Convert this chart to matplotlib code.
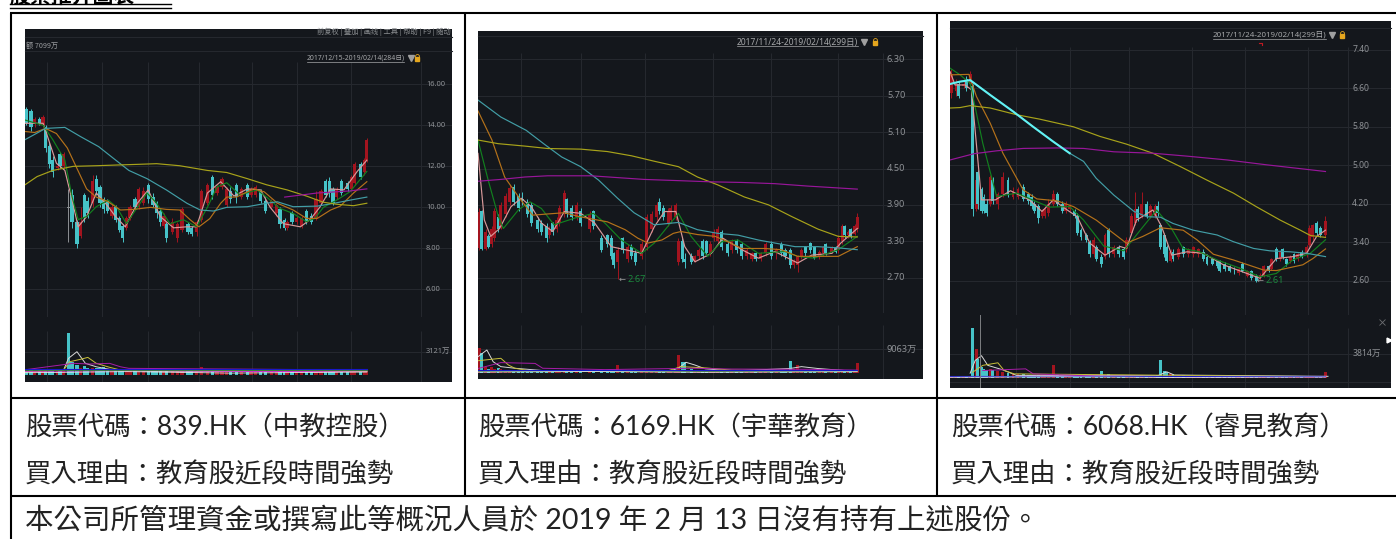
import matplotlib
matplotlib.use("Agg")
import matplotlib.pyplot as plt
import numpy as np

# ---- stock 1, 839.HK : candles are (open, close, low, high)
days1 = [1,5,8,12,15,17,20,23,27,29,32,36,39,43,46,49,52,56,59,62,
         65,68,72,75,78,81,84,87,91,94,98,102,106,109,112,115,117,122,126,130,
         135,138,142,146,151,155,159,163,167,170,175,179,184,187,191,195,199,204,208,211,
         215,217,221,225,229,233,237,241,245,249,252,255,258,262,267,270,273,278,281,283]
candles1 = [(14.8,14.1,14.0,14.9),(14.7,13.9,13.7,14.8),(14.1,14.3,13.9,14.4),(14.3,14.1,14.0,14.4),
    (14.0,14.4,13.9,14.5),(13.9,12.9,12.7,14.0),(13.0,12.1,11.9,13.2),(12.3,11.7,11.5,12.5),
    (11.9,12.0,11.8,12.3),(12.6,12.0,11.9,12.7),(12.0,12.6,11.9,12.7),(10.0,9.95,8.3,10.9),
    (10.6,9.3,9.0,10.9),(9.3,8.2,8.0,9.4),(8.6,9.3,8.5,10.0),(10.6,9.5,9.3,10.7),
    (10.3,9.7,9.5,10.5),(10.2,11.3,10.0,11.6),(11.4,10.8,10.6,11.6),(11.0,10.2,10.0,11.1),
    (10.4,9.9,9.7,10.5),(10.3,9.8,9.7,10.4),(9.6,10.0,9.5,10.2),(10.0,9.4,9.3,10.1),
    (9.5,8.9,8.8,9.6),(9.1,8.5,8.3,9.2),(9.0,9.5,8.9,9.6),(9.5,10.0,9.4,10.1),
    (10.4,10.0,9.9,10.5),(10.0,10.9,9.9,11.0),(10.2,10.8,10.1,11.0),(11.1,10.4,10.2,11.2),
    (10.5,10.1,10.0,10.7),(10.2,9.7,9.5,10.3),(9.8,9.3,9.1,9.9),(9.1,9.6,9.0,9.7),
    (9.2,8.5,8.3,9.3),(8.8,9.3,8.7,9.5),(8.5,9.2,8.3,9.3),(8.9,9.9,8.8,10.0),
    (9.2,8.8,8.7,9.3),(9.0,8.7,8.6,9.1),(8.8,9.3,8.6,9.4),(9.4,10.8,9.3,10.9),
    (10.2,11.1,10.1,11.2),(11.5,10.6,10.4,11.6),(10.7,11.0,10.6,11.1),(11.0,11.4,10.9,11.5),
    (10.1,10.9,10.0,11.0),(10.8,10.4,10.2,11.0),(11.1,10.5,10.2,11.2),(10.5,10.9,10.4,11.0),
    (11.1,10.5,10.4,11.2),(10.6,10.9,10.5,11.0),(10.6,11.0,10.5,11.1),(10.8,10.3,10.2,10.9),
    (10.3,9.8,9.7,10.5),(10.0,10.3,9.9,10.4),(9.7,10.1,9.6,10.2),(9.9,9.2,9.0,10.0),
    (9.4,9.0,8.9,9.5),(9.0,9.3,8.9,9.4),(9.7,9.3,9.2,9.8),(9.3,9.5,9.2,9.6),
    (9.1,9.5,9.0,9.6),(9.8,9.3,9.2,9.9),(9.6,9.3,9.2,9.7),(9.5,10.4,9.4,10.8),
    (10.2,10.8,10.1,10.9),(11.3,10.6,10.5,11.4),(11.3,10.7,10.5,11.5),(10.9,10.2,10.1,11.0),
    (10.5,10.9,10.4,11.0),(11.3,10.7,10.6,11.4),(11.2,10.9,10.8,11.3),(10.9,11.5,10.8,11.6),
    (11.2,12.1,11.1,12.2),(12.1,11.5,11.4,12.2),(11.7,12.3,11.6,12.4),(12.3,13.3,12.2,13.4)]
volume1 = [600,700,500,650,550,700,800,600,650,600,650,5560,1800,1300,1000,1200,1000,900,1000,950,
    1100,800,850,700,750,800,700,650,650,600,650,600,650,600,650,600,800,600,650,600,
    600,650,600,1100,700,650,600,650,800,600,550,550,600,500,550,550,600,500,550,500,
    550,500,550,600,500,550,500,600,550,600,600,550,600,500,500,550,700,600,700,600]

ma5_x1 = [0,15,26,33,39,44,51,59,68,75,83,93,102,112,123,134,142,151,162,173,184,195,203,214,228,236,244,253,264,275,283]
ma5_y1 = [14.1,14.1,12.15,11.8,10.35,9.05,9.55,10.7,10.1,9.55,9.05,10.2,10.85,9.55,9.0,9.05,9.05,10.7,11.25,10.55,10.9,10.85,10.0,9.2,9.05,9.4,10.0,10.9,10.85,11.75,12.3]
ma10_x1 = [0,15,23,33,39,44,51,59,69,76,84,93,101,109,120,131,142,151,159,167,178,192,200,211,222,233,240,247,258,269,283]
ma10_y1 = [14.26,14.0,13.3,12.3,10.5,9.4,9.55,10.03,10.35,10.0,9.2,10.0,10.7,10.2,9.2,9.4,9.05,10.0,11.0,11.2,10.6,10.85,10.5,9.95,9.7,9.3,9.46,10.0,10.35,10.76,11.75]
ma30_x1 = [0,8,17,26,35,43,51,59,68,79,90,104,117,128,137,144,153,162,167,175,189,198,209,222,233,242,253,261,272,283]
ma30_y1 = [13.7,13.65,13.85,13.6,12.9,11.9,10.9,10.5,10.3,9.87,9.9,10.0,9.9,9.87,9.38,9.05,9.45,10.2,10.5,10.5,10.9,10.76,10.2,9.87,9.46,9.46,9.87,10.06,10.7,11.25]
ma60_x1 = [0,17,33,46,61,73,86,101,117,134,145,156,167,184,200,209,222,242,256,269,283]
ma60_y1 = [13.3,13.85,13.9,13.45,12.96,12.4,11.8,11.4,10.85,10.2,9.87,9.82,10.0,10.03,10.2,10.27,10.03,10.06,10.2,10.35,10.5]
ma120_x1 = [0,10,23,40,59,79,95,109,128,151,167,184,200,217,233,247,258,272,283]
ma120_y1 = [11.1,11.5,11.8,12.0,12.03,12.07,12.1,12.13,12.03,11.8,11.7,11.4,11.1,10.85,10.55,10.25,10.15,10.08,10.2]
ma250_x1 = [215,242,269,283]
ma250_y1 = [10.5,10.7,10.8,10.9]
vol_white_x1 = [0,32,36,43,50,59,70,100,283]
vol_white_y1 = [450,670,2230,3120,1560,1100,760,500,450]
vol_yellow_x1 = [0,32,37,46,52,59,70,79,283]
vol_yellow_y1 = [400,670,1780,2100,2360,1560,1030,670,500]
vol_magenta_x1 = [0,40,54,70,79,86,283]
vol_magenta_y1 = [700,1560,1470,1560,1100,890,670]

# ---- stock 2, 6169.HK
days2 = [1,3,6,8,11,13,16,18,22,25,28,32,35,39,42,47,50,54,56,59,
         62,64,68,70,74,78,81,88,91,97,102,105,107,110,114,118,121,124,129,133,
         137,141,143,146,150,152,156,158,161,163,168,171,174,177,180,183,186,189,192,197,
         200,204,208,212,216,219,223,227,231,235,239,242,246,249,252,255,258,262,265,269,
         272,274,279,282,284,287,289,292,294,297,299]
candles2 = [(3.18,3.79,3.15,3.85),(3.8,3.17,3.15,3.82),(3.17,3.45,3.15,3.5),(3.38,3.2,3.18,3.42),
    (3.25,3.5,3.2,3.55),(3.35,3.8,3.3,3.85),(3.7,3.5,3.45,3.75),(3.55,3.9,3.5,3.95),
    (3.75,4.05,3.7,4.1),(3.95,4.18,3.9,4.22),(4.2,3.95,3.9,4.25),(4.05,3.85,3.8,4.1),
    (4.0,3.98,3.9,4.12),(3.95,3.75,3.7,4.0),(3.9,3.6,3.55,3.95),(3.65,3.5,3.45,3.7),
    (3.6,3.45,3.4,3.65),(3.55,3.35,3.28,3.6),(3.4,3.5,3.35,3.55),(3.6,3.45,3.4,3.62),
    (3.5,3.65,3.45,3.7),(3.6,3.85,3.55,3.9),(3.75,4.1,3.7,4.14),(4.0,3.75,3.7,4.02),
    (3.85,3.7,3.65,3.9),(3.7,3.9,3.65,3.95),(3.8,3.6,3.55,3.85),(3.5,3.75,3.45,3.8),
    (3.8,3.55,3.5,3.82),(3.35,3.15,3.12,3.4),(3.4,3.25,3.2,3.42),(3.35,3.05,3.0,3.4),
    (3.1,2.9,2.85,3.12),(2.95,3.15,2.67,3.2),(3.35,3.15,3.1,3.37),(3.0,3.2,2.95,3.25),
    (3.2,3.05,3.0,3.25),(3.1,2.95,2.9,3.15),(3.05,3.25,3.0,3.3),(3.2,3.7,3.15,3.75),
    (3.5,3.75,3.45,3.8),(3.7,3.9,3.65,3.95),(3.95,3.8,3.75,4.02),(3.85,3.7,3.65,3.9),
    (3.6,3.8,3.55,3.85),(3.65,3.85,3.6,3.9),(3.7,3.9,3.65,3.93),(2.95,3.3,2.9,3.35),
    (3.3,3.0,2.95,3.35),(3.0,2.95,2.85,3.1),(3.05,2.95,2.93,3.1),(2.98,3.05,2.95,3.08),
    (3.05,3.15,3.0,3.18),(3.3,3.05,3.0,3.33),(3.3,3.1,3.05,3.32),(3.1,3.25,3.05,3.3),
    (3.35,3.45,3.3,3.5),(3.3,3.5,3.25,3.55),(3.45,3.2,3.15,3.48),(3.25,3.1,3.05,3.3),
    (3.15,3.3,3.1,3.33),(3.3,3.15,3.1,3.33),(3.25,3.05,3.0,3.28),(3.05,3.15,3.0,3.18),
    (3.0,3.1,2.97,3.12),(3.1,3.0,2.97,3.12),(3.0,3.1,2.97,3.12),(3.1,3.25,3.05,3.28),
    (3.25,3.05,3.0,3.3),(3.1,3.15,3.0,3.18),(3.25,3.1,3.05,3.28),(3.15,3.05,3.0,3.18),
    (3.15,2.9,2.85,3.18),(2.9,2.97,2.85,3.0),(2.9,3.05,2.8,3.08),(3.05,3.15,3.0,3.18),
    (3.2,3.1,3.05,3.22),(3.27,3.15,3.1,3.28),(3.2,3.02,3.0,3.22),(3.05,3.12,3.0,3.15),
    (3.1,3.2,3.05,3.22),(3.25,3.1,3.08,3.27),(3.12,3.2,3.1,3.22),(3.2,3.12,3.1,3.22),
    (3.15,3.35,3.1,3.4),(3.3,3.55,3.25,3.58),(3.55,3.4,3.35,3.57),(3.4,3.45,3.35,3.48),
    (3.5,3.37,3.35,3.52),(3.42,3.55,3.4,3.58),(3.5,3.7,3.45,3.76)]
volume2 = [9300,7400,2500,1800,2200,1600,2000,1500,1300,1200,1200,1100,1000,1000,1000,900,900,900,800,800,
    800,900,900,800,800,800,800,900,700,700,700,700,800,3100,900,800,800,700,1000,1200,
    1200,1100,900,900,900,900,800,6800,4300,4300,1500,1300,1300,1200,1100,1000,1200,1000,900,900,
    800,800,800,700,700,700,700,800,700,800,800,700,4700,1500,3000,1300,1000,1000,900,900,
    900,800,800,800,1100,1300,1000,900,800,1300,3700]

ma5_x2 = [0,5,10,17,26,34,42,50,59,68,81,92,105,116,129,139,147,156,163,171,184,193,208,221,234,252,263,279,286,299]
ma5_y2 = [4.75,3.65,3.38,3.51,3.87,4.01,3.87,3.6,3.46,3.79,3.76,3.6,3.21,3.16,3.1,3.54,3.79,3.79,3.21,2.96,3.1,3.35,3.16,3.02,3.13,2.94,3.07,3.1,3.27,3.51]
ma10_x2 = [0,8,16,20,32,41,50,60,76,91,100,113,129,139,158,168,181,192,205,221,242,252,265,284,299]
ma10_y2 = [4.97,4.31,3.71,3.51,3.82,3.95,3.84,3.57,3.68,3.76,3.6,3.32,3.1,3.27,3.76,3.38,3.05,3.29,3.32,3.1,3.13,3.05,3.02,3.16,3.38]
ma30_x2 = [0,11,21,32,43,55,68,79,89,102,116,126,134,145,154,160,173,187,197,208,226,239,252,268,284,299]
ma30_y2 = [5.45,4.97,4.36,4.03,3.73,3.75,3.77,3.71,3.67,3.62,3.49,3.35,3.27,3.32,3.43,3.46,3.41,3.38,3.29,3.18,3.18,3.16,3.05,3.05,3.05,3.21]
ma60_x2 = [0,18,38,53,66,81,95,110,123,139,158,173,189,205,221,234,250,268,284,299]
ma60_y2 = [5.63,5.35,5.13,4.89,4.69,4.53,4.31,4.01,3.77,3.57,3.61,3.49,3.43,3.4,3.32,3.27,3.21,3.21,3.19,3.16]
ma120_x2 = [0,16,37,55,81,102,121,139,158,173,189,210,229,247,268,284,299]
ma120_y2 = [4.97,4.91,4.87,4.83,4.82,4.78,4.71,4.62,4.53,4.36,4.23,4.03,3.9,3.71,3.5,3.38,3.37]
ma250_x2 = [0,18,37,55,89,110,131,158,184,208,234,260,299]
ma250_y2 = [4.29,4.32,4.36,4.38,4.38,4.35,4.32,4.3,4.28,4.27,4.25,4.21,4.16]
vol_white_x2 = [0,7,12,18,29,60,150,158,164,171,179,200,246,255,268,299]
vol_white_y2 = [6200,8700,4300,2500,1900,700,700,1900,4100,3100,1700,900,1800,2500,1800,700]
vol_yellow_x2 = [0,18,24,29,40,150,160,180,200,299]
vol_yellow_y2 = [4700,5600,3100,1900,1000,1000,2500,2000,1200,800]
vol_magenta_x2 = [0,18,45,51,100,170,200,260,299]
vol_magenta_y2 = [1800,4000,3700,1900,1400,1900,1600,1500,1200]

# ---- stock 3, 6068.HK
days3 = [1,5,7,11,13,16,18,21,22,25,27,29,32,34,38,42,46,50,54,58,
         62,65,67,70,73,75,78,82,85,89,92,95,99,101,104,108,111,114,116,120,
         123,126,130,134,138,140,144,147,149,152,156,159,163,165,167,170,172,175,177,181,
         185,189,193,197,201,204,208,212,214,218,222,225,229,232,236,239,243,246,249,253,
         255,259,262,264,267,270,273,276,279,283,285,288,291,294,298]
candles3 = [(6.5,6.9,6.4,7.0),(6.55,6.7,6.45,6.8),(6.7,6.45,6.4,6.75),(6.65,6.7,6.6,6.8),
    (6.8,6.6,6.55,6.85),(6.7,6.9,6.6,6.95),(6.65,4.1,3.95,6.7),(4.1,4.7,4.05,4.75),
    (4.85,4.2,4.1,4.9),(4.5,4.05,4.0,4.55),(4.35,4.05,4.0,4.4),(4.2,4.0,3.95,4.3),
    (4.2,4.75,4.15,4.8),(4.7,4.25,4.2,4.75),(4.2,4.4,4.1,4.45),(4.4,4.75,4.35,4.85),
    (4.7,4.4,4.35,4.75),(4.35,4.45,4.3,4.55),(4.35,4.5,4.3,4.55),(4.55,4.3,4.25,4.6),
    (4.4,4.25,4.2,4.45),(4.35,4.15,4.1,4.4),(4.2,4.05,4.0,4.25),(4.15,3.9,3.8,4.2),
    (3.95,4.05,3.9,4.1),(3.95,4.1,3.9,4.15),(4.0,4.2,3.95,4.3),(4.2,4.4,4.15,4.48),
    (4.4,4.2,4.15,4.45),(4.2,4.05,4.0,4.25),(4.05,4.2,4.0,4.25),(4.1,4.15,4.05,4.2),
    (4.05,3.95,3.9,4.1),(3.95,3.6,3.55,4.0),(3.65,3.5,3.45,3.7),(3.55,3.45,3.4,3.6),
    (3.4,3.15,3.1,3.45),(3.15,3.45,3.1,3.5),(3.3,3.05,3.0,3.35),(3.1,2.95,2.88,3.15),
    (3.1,3.55,3.05,3.6),(3.65,3.15,3.1,3.7),(3.15,3.3,3.1,3.35),(3.3,3.15,3.1,3.35),
    (3.25,3.1,3.05,3.3),(3.25,3.45,3.2,3.5),(3.6,3.95,3.55,4.0),(3.8,4.1,3.75,4.45),
    (4.1,3.9,3.85,4.15),(3.95,4.2,3.9,4.45),(4.2,3.95,3.9,4.25),(3.95,4.15,3.9,4.2),
    (3.95,4.15,3.9,4.2),(4.15,4.0,3.95,4.25),(3.75,3.3,3.25,3.8),(3.55,3.15,3.1,3.6),
    (3.3,3.0,2.98,3.35),(3.0,3.2,2.98,3.25),(3.2,3.05,3.0,3.25),(3.1,3.25,3.05,3.3),
    (3.3,3.15,3.1,3.33),(3.15,3.25,3.1,3.28),(3.15,3.3,3.1,3.33),(3.15,3.25,3.1,3.28),
    (3.2,3.05,3.0,3.25),(3.1,2.95,2.92,3.15),(3.05,2.95,2.92,3.08),(3.0,2.9,2.87,3.03),
    (3.0,2.8,2.77,3.03),(2.95,2.85,2.8,2.98),(2.9,2.8,2.77,2.93),(2.85,2.84,2.73,2.88),
    (2.75,2.85,2.72,2.88),(2.95,2.8,2.77,2.98),(2.7,2.8,2.67,2.83),(2.8,2.65,2.62,2.83),
    (2.7,2.6,2.57,2.73),(2.65,2.72,2.61,2.75),(2.7,2.9,2.67,2.93),(2.9,2.8,2.77,2.93),
    (2.85,3.05,2.82,3.08),(3.25,3.05,3.0,3.3),(3.05,3.2,3.0,3.23),(3.25,3.1,3.05,3.28),
    (3.05,2.95,2.9,3.08),(3.0,3.1,2.97,3.13),(3.15,3.0,2.97,3.18),(3.05,3.15,3.0,3.18),
    (3.2,3.1,3.07,3.23),(3.15,3.3,3.1,3.35),(3.35,3.7,3.3,3.75),(3.5,3.75,3.45,3.78),
    (3.8,3.6,3.55,3.85),(3.7,3.55,3.5,3.73),(3.55,3.85,3.5,3.95)]
volume3 = [400,400,300,350,300,350,7830,4600,3030,1800,1500,1300,1400,1300,1100,900,800,700,700,600,
    500,500,500,500,400,450,500,2000,500,400,400,350,350,400,400,400,400,400,400,1100,
    350,600,400,350,350,350,350,400,400,450,400,350,400,500,2870,1200,900,700,600,500,
    500,450,450,400,300,300,300,300,300,300,300,300,300,300,300,300,300,300,300,300,
    300,350,300,350,300,300,300,300,400,350,350,400,400,400,940]

ma5_x3 = [0,4,12,17,25,36,48,63,73,82,93,101,111,123,135,140,148,161,168,176,188,201,217,246,259,272,283,291,298]
ma5_y3 = [6.95,6.67,6.67,6.57,4.28,4.28,4.47,4.28,4.04,4.28,4.07,3.93,3.38,3.13,3.31,3.27,3.86,4.07,3.72,3.13,3.2,3.17,2.93,2.65,3.06,3.1,3.17,3.52,3.65]
ma10_x3 = [0,8,16,26,37,53,69,79,95,106,122,138,151,164,175,185,198,212,230,246,259,272,286,298]
ma10_y3 = [7.02,6.88,6.7,5.46,4.35,4.42,4.24,4.13,4.14,3.86,3.32,3.22,3.65,4.07,3.72,3.27,3.2,3.03,2.86,2.68,2.75,3.03,3.17,3.45]
ma30_x3 = [0,15,21,32,42,58,69,85,98,116,130,140,153,167,185,196,209,225,249,259,280,288,298]
ma30_y3 = [6.88,6.89,6.43,5.87,5.25,4.49,4.3,4.26,4.14,3.86,3.58,3.38,3.52,3.7,3.65,3.45,3.15,3.03,2.82,2.81,2.93,3.06,3.26]
ma60_x3 = [0,8,16,32,50,66,82,95,106,116,130,146,156,167,177,193,212,225,241,254,270,283,298]
ma60_y3 = [6.69,6.74,6.77,6.46,6.12,5.8,5.49,5.25,5.08,4.73,4.38,4.04,3.93,3.92,3.79,3.65,3.55,3.41,3.27,3.22,3.2,3.17,3.1]
ma120_x3 = [0,8,16,32,53,71,98,119,140,161,183,204,225,243,262,278,286,298]
ma120_y3 = [6.19,6.2,6.24,6.19,6.05,5.96,5.8,5.6,5.44,5.25,4.97,4.69,4.42,4.14,3.86,3.65,3.54,3.5]
ma250_x3 = [0,19,37,58,85,106,130,161,188,220,251,298]
ma250_y3 = [5.11,5.24,5.3,5.35,5.36,5.35,5.28,5.25,5.19,5.11,5.01,4.87]
vol_white_x3 = [16,20,25,30,42,53,165,172,178,300]
vol_white_y3 = [780,2770,3500,2000,1300,420,400,1000,500,300]
vol_yellow_x3 = [18,26,38,43,51,298]
vol_yellow_y3 = [940,2000,2400,1200,680,250]
vol_magenta_x3 = [26,60,66,120,298]
vol_magenta_y3 = [1200,1460,680,300,200]

# tick labels and texts
price_ticks1 = [16.0, 14.0, 12.0, 10.0, 8.0, 6.0]
price_ticks2 = [6.3, 5.7, 5.1, 4.5, 3.9, 3.3, 2.7]
price_ticks3 = [7.4, 6.6, 5.8, 5.0, 4.2, 3.4, 2.6]
date_labels = ["2017/12/15-2019/02/14(284日)", "2017/11/24-2019/02/14(299日)", "2017/11/24-2019/02/14(299日)"]
code_labels = ["股票代碼：839.HK（中教控股）", "股票代碼：6169.HK（宇華教育）", "股票代碼：6068.HK（睿見教育）"]
reason_label = "買入理由：教育股近段時間強勢"
note_label = "本公司所管理資金或撰寫此等概況人員於 2019 年 2 月 13 日沒有持有上述股份。"

BG = "#14171c"
GRID = "#25282e"
RED = "#a3141f"
CYAN = "#46c3c8"
TXT = "#8f9296"
W, H = 1396, 539


def add_ax(x0, y0, x1, y1):
    # axes placed by pixel box of the original screenshot
    ax = fig.add_axes([x0 / W, 1 - y1 / H, (x1 - x0) / W, (y1 - y0) / H], facecolor=BG)
    ax.set_xticks([])
    ax.set_yticks([])
    for s in ax.spines.values():
        s.set_visible(False)
    return ax


def draw_candles(ax, days, candles, wid):
    for d, (o, c, l, h) in zip(days, candles):
        col = "#8d9094" if abs(o - c) < 0.06 * abs(h - l) else (RED if c > o else CYAN)
        ax.vlines(d, l, h, color=col, lw=0.7, zorder=2)
        ax.bar(d, max(abs(c - o), 0.01), bottom=min(o, c), width=wid, color=col, lw=0, zorder=2)


def draw_lines(ax, lines):
    cols = ["#d9999a", "#12801f", "#b5721a", "#429ea6", "#a8a31a", "#98169a"]
    for (x, y), col in zip(lines, cols):
        ax.plot(x, y, color=col, lw=0.85, zorder=3)


def draw_volume(ax, days, candles, volume, wid, vlines, xlast, flat):
    for d, (o, c, l, h), v in zip(days, candles, volume):
        col = RED if c > o else CYAN
        ax.bar(d, v, width=wid, color=col, lw=0, zorder=2)
    cols = ["#d9d9d9", "#c8c03a", "#a81ca8"]
    for (x, y), col in zip(vlines, cols):
        ax.plot(x, y, color=col, lw=0.7, zorder=3)
    # the tangle of low average lines along the base
    ax.plot([0, xlast * 0.4, xlast * 0.7, xlast], [flat * 0.5, flat * 0.6, flat * 0.45, flat * 0.55], color="#d02bd0", lw=0.8, zorder=3)
    ax.plot([0, xlast], [flat * 0.7, flat * 0.7], color="#2a8a2a", lw=0.6, zorder=3)
    ax.plot([0, xlast], [flat * 0.85, flat * 0.85], color="#1818c8", lw=0.8, zorder=4)
    ax.plot([0, xlast * 0.3, xlast * 0.6, xlast], [flat * 0.3, flat * 0.45, flat * 0.25, flat * 0.4], color="#e8e8e8", lw=0.6, zorder=4)


fig = plt.figure(figsize=(W / 100, H / 100), dpi=100, facecolor="white")

# stock 1
p1 = add_ax(25, 29, 452, 317)
p1.set_xlim(0, 353.5)
p1.set_ylim(4.65, 18.7)
for t in price_ticks1:
    p1.axhline(t, color=GRID, lw=0.8, zorder=1)
    p1.text(0.939, t, "%.2f" % t, transform=p1.get_yaxis_transform(), color=TXT, fontsize=5.4, va="center", family="Noto Sans")
p1.vlines([18, 64, 102, 144, 188, 225, 270, 328], 4.65, 17.1, color=GRID, lw=0.8, zorder=1)
draw_candles(p1, days1, candles1, 2.7)
draw_lines(p1, [(ma5_x1, ma5_y1), (ma10_x1, ma10_y1), (ma30_x1, ma30_y1), (ma60_x1, ma60_y1), (ma120_x1, ma120_y1), (ma250_x1, ma250_y1)])
v1 = add_ax(25, 317, 452, 381.7)
v1.set_xlim(0, 353.5)
v1.set_ylim(-900, 7770)
v1.axhline(3121, color=GRID, lw=0.8, zorder=1)
v1.text(0.939, 3121, "3121万", transform=v1.get_yaxis_transform(), color=TXT, fontsize=5.4, va="center", family=["Noto Sans", "Noto Sans CJK SC"])
v1.vlines([18, 64, 102, 144, 188, 225, 270, 328], -900, 5900, color=GRID, lw=0.8, zorder=1)
draw_volume(v1, days1, candles1, volume1, 2.7,
            [(vol_white_x1, vol_white_y1), (vol_yellow_x1, vol_yellow_y1), (vol_magenta_x1, vol_magenta_y1)], 283, 1000)

# stock 2
p2 = add_ax(478, 31, 923, 312.7)
p2.set_xlim(0, 350.8)
p2.set_ylim(2.12, 6.77)
for t in price_ticks2:
    p2.axhline(t, color=GRID, lw=0.8, zorder=1)
    p2.text(0.919, t, "%.2f" % t, transform=p2.get_yaxis_transform(), color=TXT, fontsize=6.6, va="center", family="Noto Sans")
p2.vlines([34, 81, 132, 185, 231, 284, 319], 2.12, 6.4, color=GRID, lw=0.8, zorder=1)
draw_candles(p2, days2, candles2, 2.4)
draw_lines(p2, [(ma5_x2, ma5_y2), (ma10_x2, ma10_y2), (ma30_x2, ma30_y2), (ma60_x2, ma60_y2), (ma120_x2, ma120_y2), (ma250_x2, ma250_y2)])
p2.text(111, 2.67, "←", color="#9a9a9a", fontsize=6, va="center", family="DejaVu Sans")
p2.text(118, 2.67, "2.67", color="#1c8a3e", fontsize=6.6, va="center", family="Noto Sans")
v2 = add_ax(478, 312.7, 923, 379)
v2.set_xlim(0, 350.8)
v2.set_ylim(-2100, 22570)
v2.axhline(9063, color=GRID, lw=0.8, zorder=1)
v2.text(0.919, 9063, "9063万", transform=v2.get_yaxis_transform(), color=TXT, fontsize=6.6, va="center", family=["Noto Sans", "Noto Sans CJK SC"])
v2.vlines([34, 81, 132, 185, 231, 284, 319], -2100, 18000, color=GRID, lw=0.8, zorder=1)
draw_volume(v2, days2, candles2, volume2, 2.4,
            [(vol_white_x2, vol_white_y2), (vol_yellow_x2, vol_yellow_y2), (vol_magenta_x2, vol_magenta_y2)], 299, 1500)

# stock 3
p3 = add_ax(950, 21, 1391, 315)
p3.set_xlim(0, 350)
p3.set_ylim(1.886, 8.0)
for t in price_ticks3:
    p3.axhline(t, color=GRID, lw=0.8, zorder=1)
    p3.text(0.912, t, "%.2f" % t, transform=p3.get_yaxis_transform(), color=TXT, fontsize=6.2, va="center", family="Noto Sans")
p3.vlines([52, 95, 142, 192, 234, 284, 316], 1.886, 7.45, color=GRID, lw=0.8, zorder=1)
draw_candles(p3, days3, candles3, 2.3)
draw_lines(p3, [(ma5_x3, ma5_y3), (ma10_x3, ma10_y3), (ma30_x3, ma30_y3), (ma60_x3, ma60_y3), (ma120_x3, ma120_y3), (ma250_x3, ma250_y3)])
# start of the 60 day line is highlighted in the screenshot
p3.plot(ma60_x3[:8], ma60_y3[:8], color="#62f2f4", lw=1.5, zorder=4)
p3.text(243, 2.6, "←", color="#9a9a9a", fontsize=6, va="center", family="DejaVu Sans")
p3.text(250, 2.6, "2.61", color="#1c8a3e", fontsize=6.6, va="center", family="Noto Sans")
v3 = add_ax(950, 315, 1391, 388)
v3.set_xlim(0, 350)
v3.set_ylim(-1510, 9810)
v3.axhline(3814, color=GRID, lw=0.8, zorder=1)
v3.axhline(-520, color=GRID, lw=0.8, zorder=1)
v3.text(0.912, 3814, "3814万", transform=v3.get_yaxis_transform(), color=TXT, fontsize=6.2, va="center", family=["Noto Sans", "Noto Sans CJK SC"])
v3.vlines([52, 95, 142, 192, 234, 284, 316], -1510, 7800, color=GRID, lw=0.8, zorder=1)
v3.axvline(24, color="#7d7f82", lw=0.7, zorder=5)
draw_volume(v3, days3, candles3, volume3, 2.3,
            [(vol_white_x3, vol_white_y3), (vol_yellow_x3, vol_yellow_y3), (vol_magenta_x3, vol_magenta_y3)], 298, 500)

# overlay in screenshot pixels: table rules, captions, chart furniture
ov = fig.add_axes([0, 0, 1, 1], facecolor="none")
ov.set_xlim(0, W)
ov.set_ylim(H, 0)
ov.axis("off")

# table
for x in [11, 464.5, 937]:
    ym = 495 if x > 20 else H
    ov.plot([x, x], [12.5, ym], color="black", lw=1.5, solid_capstyle="butt")
for y in [13, 397.5, 495.5]:
    ov.plot([10, W], [y, y], color="black", lw=1.5, solid_capstyle="butt")
ov.plot([10, 171], [4, 4], color="black", lw=1.0)
ov.plot([10, 171], [8, 8], color="black", lw=1.0)
# heading is cut off by the top of the page
ov.text(10, 7.5, "股票推介圖表", fontsize=15, weight="bold", va="bottom", family="Noto Sans CJK TC", color="black")

cap_font = ["Lato", "Noto Sans CJK TC"]
for x, code in zip([25, 478, 951], code_labels):
    ov.text(x, 427.5, code, fontsize=19, va="center", family=cap_font, color="#222222")
    ov.text(x, 474.5, reason_label, fontsize=19, va="center", family=cap_font, color="#222222")
ov.text(25, 520, note_label, fontsize=20.5, va="center", family=cap_font, color="#222222")

# date range labels with triangle and lock
date_boxes = [(307, 404, 58, 4.9, 411, 417), (737, 858, 42, 6.1, 864, 875), (1213, 1326, 35, 5.7, 1332, 1342)]
for label, (x0, x1, y, fs, tx, lx) in zip(date_labels, date_boxes):
    ov.text(x0, y, label, fontsize=fs, va="center", color="#a6a8aa", family=["Noto Sans", "Noto Sans CJK SC"])
    ov.plot([x0, x1], [y + 3.5, y + 3.5], color="#a6a8aa", lw=0.5)
    ov.plot(tx, y, marker="v", color="#a0a0a0", ms=4.5, lw=0)
    ov.plot(lx, y + 1, marker="s", color="#e5a61e", ms=3.2, lw=0)
    ov.plot(lx, y - 2, marker="o", mfc="none", mec="#e5a61e", ms=2.8, mew=0.6, lw=0)

# stock 1 toolbar strip
ov.plot([25, 452], [37, 37], color=GRID, lw=0.8)
ov.plot([25, 452], [51, 51], color=GRID, lw=0.8)
ov.text(451, 31.5, "前复权 | 叠加 | 画线 | 工具 | 帮助 | F9 | 随动", fontsize=5.2, color="#8a8d90", ha="right", va="center", family=["Noto Sans CJK SC"])
ov.text(26, 45.5, "额 7099万", fontsize=5.2, color="#9a9c9f", va="center", family=["Noto Sans CJK SC"])
ov.plot([478, 923], [36, 36], color=GRID, lw=0.8)
ov.plot([950, 1391], [28, 28], color=GRID, lw=0.8)

# stock 3 odds and ends
ov.plot([1259, 1262, 1262], [43, 43, 45], color="#c01a22", lw=0.8)
ov.plot(1382, 322, marker="x", color="#6c6e72", ms=4, mew=0.6, lw=0)
ov.plot(1389, 340, marker=">", color="white", ms=3.5, lw=0)

fig.savefig("out.png", dpi=100)
